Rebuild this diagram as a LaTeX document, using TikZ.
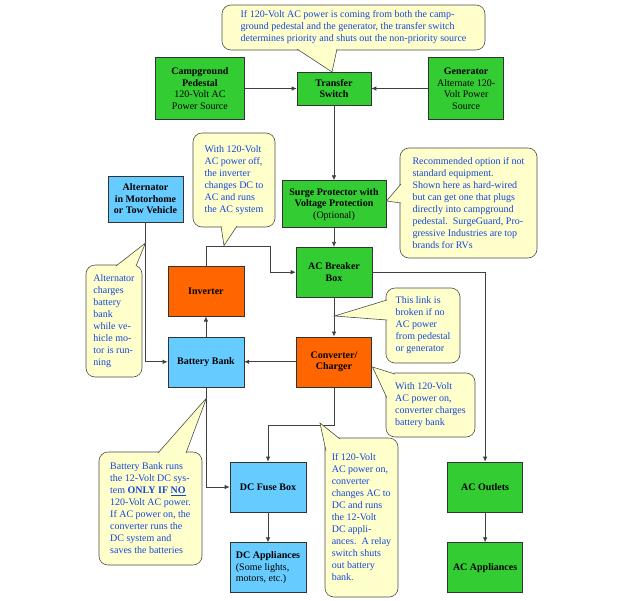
\documentclass[tikz,border=0pt]{standalone}
\usepackage{fontspec}
\setmainfont{Liberation Serif}
\usetikzlibrary{arrows.meta,positioning,calc}
\definecolor{boxgreen}{RGB}{51,204,51}
\definecolor{boxblue}{RGB}{102,204,255}
\definecolor{boxorange}{RGB}{255,102,0}
\definecolor{noteyellow}{RGB}{255,255,204}
\definecolor{noteblue}{RGB}{20,70,220}
\newcommand{\notetip}[3]{%
  \fill[noteyellow] (#1) -- (#3) -- (#2) -- cycle;
  \draw[black!70, line width=0.6pt] (#1) -- (#3) -- (#2);}

\begin{document}
\begin{tikzpicture}[x=1pt,y=-1pt,node distance=30pt,>={Latex[length=5pt,width=4.5pt]},font=\fontsize{10}{11.5}\selectfont]
\tikzstyle{box}=[draw=black!80, line width=0.6pt, align=center, inner sep=2pt, minimum width=75pt, minimum height=50pt]
\tikzstyle{note}=[draw=black!70, line width=0.6pt, rounded corners=9pt, fill=noteyellow, text=noteblue, align=left, inner sep=4pt, font=\fontsize{10}{12}\selectfont]
\tikzstyle{link}=[->, black!75, line width=0.7pt]
\useasboundingbox (0,0) rectangle (634,600);

\node[box, fill=boxgreen, minimum width=74pt, minimum height=33pt] (ts) at (334,88.5) {\textbf{Transfer}\\\textbf{Switch}};
\node[box, left=52pt of ts, fill=boxgreen, minimum width=89pt, minimum height=62pt] (camp) {\textbf{Campground}\\\textbf{Pedestal}\\120-Volt AC\\Power Source};
\node[box, right=57pt of ts, fill=boxgreen, minimum height=62pt] (gen) {\textbf{Generator}\\Alternate 120-\\Volt Power\\Source};
\node[box, below=75pt of ts, fill=boxgreen, minimum width=104pt, minimum height=47pt] (surge) {\textbf{Surge Protector with}\\\textbf{Voltage Protection}\\(Optional)};
\node[box, below=19pt of surge, fill=boxgreen, minimum width=76pt] (breaker) {\textbf{AC Breaker}\\\textbf{Box}};
\node[box, below=39pt of breaker, fill=boxorange] (conv) {\textbf{Converter/}\\\textbf{Charger}};
\node[box, left=52pt of conv, fill=boxblue, minimum width=76pt] (batt) {\textbf{Battery Bank}};
\node[box, above=20pt of batt, fill=boxorange, minimum width=76pt] (inv) {\textbf{Inverter}};
\node[box, fill=boxblue, minimum height=46pt] (alt) at (145.5,199) {\textbf{Alternator}\\\textbf{in Motorhome}\\\textbf{or Tow Vehicle}};
\node[box, fill=boxblue, minimum width=76pt] (fuse) at (268,487) {\textbf{DC Fuse Box}};
\node[box, below=of fuse, fill=boxblue, minimum width=76pt, align=left] (dcapp) {\textbf{DC Appliances}\\(Some lights,\\motors, etc.)};
\node[box, right=141pt of fuse, fill=boxgreen] (outlets) {\textbf{AC Outlets}};
\node[box, below=of outlets, fill=boxgreen] (acapp) {\textbf{AC Appliances}};

\coordinate (jog) at (270,246);
\draw[link] (camp) -- (ts);
\draw[link] (gen) -- (ts);
\draw[link] (ts) -- (surge);
\draw[link] (surge) -- (breaker);
\draw[link] (inv.north) |- (jog) |- (breaker.west);
\draw[link] (breaker.east) -| (outlets.north);
\draw[link] (breaker) -- (conv);
\draw[link] (conv) -- (batt);
\draw[link] (batt) -- (inv);
\draw[link] (alt.south) |- (batt.west);
\draw[link] (batt.south) |- (fuse.west);
\draw[link] (conv.south) -- ++(0,38) -| (fuse.north);
\draw[link] (fuse) -- (dcapp);
\draw[link] (outlets) -- (acapp);

\node[note, minimum width=263pt, minimum height=45pt] (ctop) at (353.5,27.5) {If 120-Volt AC power is coming from both the camp-\\ground pedestal and the generator, the transfer switch\\determines priority and shuts out the non-priority source};
\node[note, minimum width=82pt, minimum height=94pt] (cinv) at (234,180) {With 120-Volt\\AC power off,\\the inverter\\changes DC to\\AC and runs\\the AC system};
\node[note, minimum width=137pt, minimum height=110pt] (csurge) at (468.5,203) {Recommended option if not\\standard equipment.\\Shown here as hard-wired\\but can get one that plugs\\directly into campground\\pedestal.\ \ SurgeGuard, Pro-\\gressive Industries are top\\brands for RVs};
\node[note, minimum width=56pt, minimum height=112pt] (calt) at (114,321) {Alternator\\charges\\battery\\bank\\while ve-\\hicle mo-\\tor is run-\\ning};
\node[note, minimum width=74pt, minimum height=75pt] (clink) at (423,325.5) {This link is\\broken if no\\AC power\\from pedestal\\or generator};
\node[note, minimum width=89pt, minimum height=64pt] (cconv) at (430.5,405) {With 120-Volt\\AC power on,\\converter charges\\battery bank};
\node[note, minimum width=103pt, minimum height=113pt] (cbatt) at (150.5,508.5) {Battery Bank runs\\the 12-Volt DC sys-\\tem \textbf{ONLY IF \underline{NO}}\\120-Volt AC power.\\If AC power on, the\\converter runs the\\DC system and\\saves the batteries};
\node[note, minimum width=73pt, minimum height=159pt] (cdc) at (361.5,517.5) {If 120-Volt\\AC power on,\\converter\\changes AC to\\DC and runs\\the 12-Volt\\DC appli-\\ances.\ \ A relay\\switch shuts\\out battery\\bank.};

\notetip{297,49}{337,49}{332,72}
\notetip{221,226}{237,226}{224,245.5}
\notetip{401,184}{401,203}{386.5,201}
\notetip{116,266}{136,266}{145.5,243}
\notetip{387,300}{387,320}{334.5,316}
\notetip{387,398}{395,374}{372.5,367}
\notetip{158,453}{186,453}{206.5,398}
\notetip{326,451}{340,439}{320,423}
\end{tikzpicture}
\end{document}
